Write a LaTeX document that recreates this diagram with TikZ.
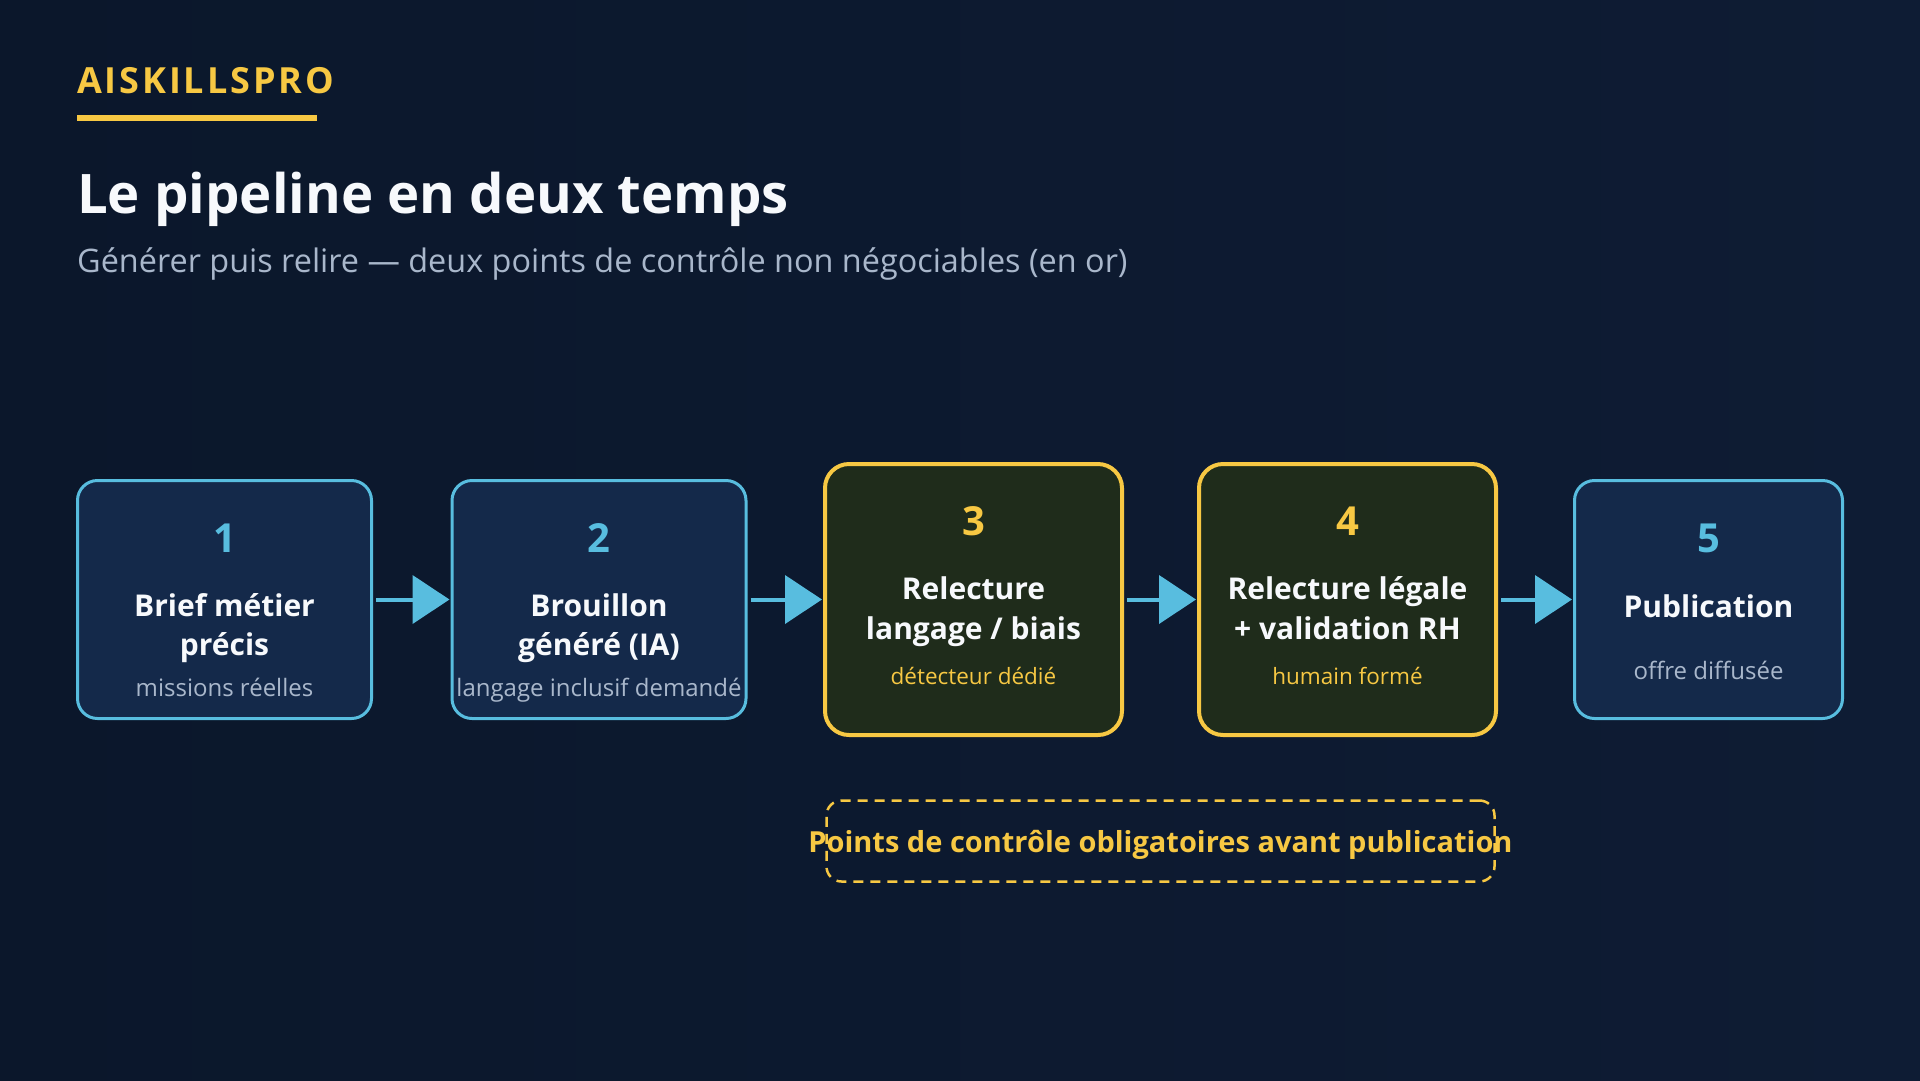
\documentclass[tikz,border=0pt]{standalone}
\usepackage{fontspec}
\IfFontExistsTF{Open Sans Bold}{%
	\setmainfont{Open Sans}[BoldFont={Open Sans Bold}]
	\newfontfamily\brandfont{Open Sans Bold}[LetterSpace=8]
}{%
	\setmainfont{Noto Sans}[AutoFakeBold=2.5]
	\newfontfamily\brandfont{Noto Sans}[FakeBold=2.5,LetterSpace=8]
}
\usepackage{xcolor}
\usetikzlibrary{arrows.meta,positioning}
\definecolor{bgdark}{HTML}{0B172B}
\definecolor{bglight}{HTML}{0E1C34}
\definecolor{cyanline}{HTML}{58BDDF}
\definecolor{cyanfill}{HTML}{14294A}
\definecolor{goldline}{HTML}{F7C843}
\definecolor{goldfill}{HTML}{1F2C1B}
\definecolor{subgrey}{HTML}{A9B7CB}
\definecolor{txtwhite}{HTML}{F7F9FC}

\begin{document}
\begin{tikzpicture}[x=1pt,y=-1pt,
		cyanbox/.style={draw=cyanline, fill=cyanfill, line width=3pt, rounded corners=20pt, minimum width=294pt, minimum height=238pt, inner sep=0pt},
		goldbox/.style={draw=goldline, fill=goldfill, line width=4pt, rounded corners=24pt, minimum width=297pt, minimum height=271pt, inner sep=0pt},
		flow/.style={draw=cyanline, line width=4pt, -{Triangle[length=37pt,width=48pt]}, shorten <=3pt, shorten >=1pt},
		txt/.style={inner sep=0pt, anchor=base},
		numtxt/.style={txt, font=\fontsize{40}{44}\selectfont\bfseries},
		headtxt/.style={txt, text=txtwhite, font=\fontsize{30}{34}\selectfont\bfseries},
		subtxt/.style={txt, text=subgrey, font=\fontsize{24}{28}\selectfont},
		goldsub/.style={txt, text=goldline, font=\fontsize{22.5}{26}\selectfont}]
		\useasboundingbox (0,0) rectangle (1920,1080);
		\shade[left color=bgdark, right color=bglight] (0,0) rectangle (1920,1080);

		\node[inner sep=0pt, anchor=base west, text=goldline, font=\brandfont\fontsize{36}{40}\selectfont] (brand) at (77,93) {AISKILLSPRO};
		\fill[goldline] (77,115) rectangle (317,121);
		\node[inner sep=0pt, anchor=base west, text=txtwhite, font=\fontsize{54.5}{60}\selectfont\bfseries] (title) at (77,213) {Le pipeline en deux temps};
		\node[inner sep=0pt, anchor=base west, text=subgrey, font=\fontsize{32.4}{36}\selectfont] (subtitle) at (77,272) {Générer puis relire — deux points de contrôle non négociables (en or)};

		\node[cyanbox] (b1) at (224.5,599.5) {};
		\node[cyanbox] (b2) at (599,599.5) {};
		\node[goldbox] (b3) at (973.5,599.5) {};
		\node[goldbox] (b4) at (1347.5,599.5) {};
		\node[cyanbox, minimum width=268pt] (b5) at (1708.5,599.5) {};

		\draw[flow] (b1) -- (b2);
		\draw[flow] (b2) -- (b3);
		\draw[flow] (b3) -- (b4);
		\draw[flow] (b4) -- (b5);

		\node[numtxt, text=cyanline] (n1) at (224.5,552) {1};
		\node[headtxt] (h1a) at (224.5,616) {Brief métier};
		\node[headtxt] (h1b) at (224.5,655) {précis};
		\node[subtxt] (s1) at (224.5,696) {missions réelles};

		\node[numtxt, text=cyanline] (n2) at (599,552) {2};
		\node[headtxt] (h2a) at (599,616) {Brouillon};
		\node[headtxt] (h2b) at (599,655) {généré (IA)};
		\node[subtxt] (s2) at (599,696) {langage inclusif demandé};

		\node[numtxt, text=goldline] (n3) at (973.5,535) {3};
		\node[headtxt] (h3a) at (973.5,599) {Relecture};
		\node[headtxt] (h3b) at (973.5,639) {langage / biais};
		\node[goldsub] (s3) at (973.5,684) {détecteur dédié};

		\node[numtxt, text=goldline] (n4) at (1347.5,535) {4};
		\node[headtxt] (h4a) at (1347.5,599) {Relecture légale};
		\node[headtxt] (h4b) at (1347.5,639) {+ validation RH};
		\node[goldsub] (s4) at (1347.5,684) {humain formé};

		\node[numtxt, text=cyanline] (n5) at (1708.5,552) {5};
		\node[headtxt] (h5) at (1708.5,617) {Publication};
		\node[subtxt] (s5) at (1708.5,679) {offre diffusée};

		\node[draw=goldline, line width=2.5pt, dash pattern=on 10pt off 7pt, rounded corners=15pt, minimum width=668pt, minimum height=81pt, inner sep=0pt] (gate) at (1160.5,841) {};
		\node[txt, text=goldline, font=\fontsize{29}{33}\selectfont\bfseries] (gatetxt) at (1160.5,852) {Points de contrôle obligatoires avant publication};
\end{tikzpicture}
\end{document}
